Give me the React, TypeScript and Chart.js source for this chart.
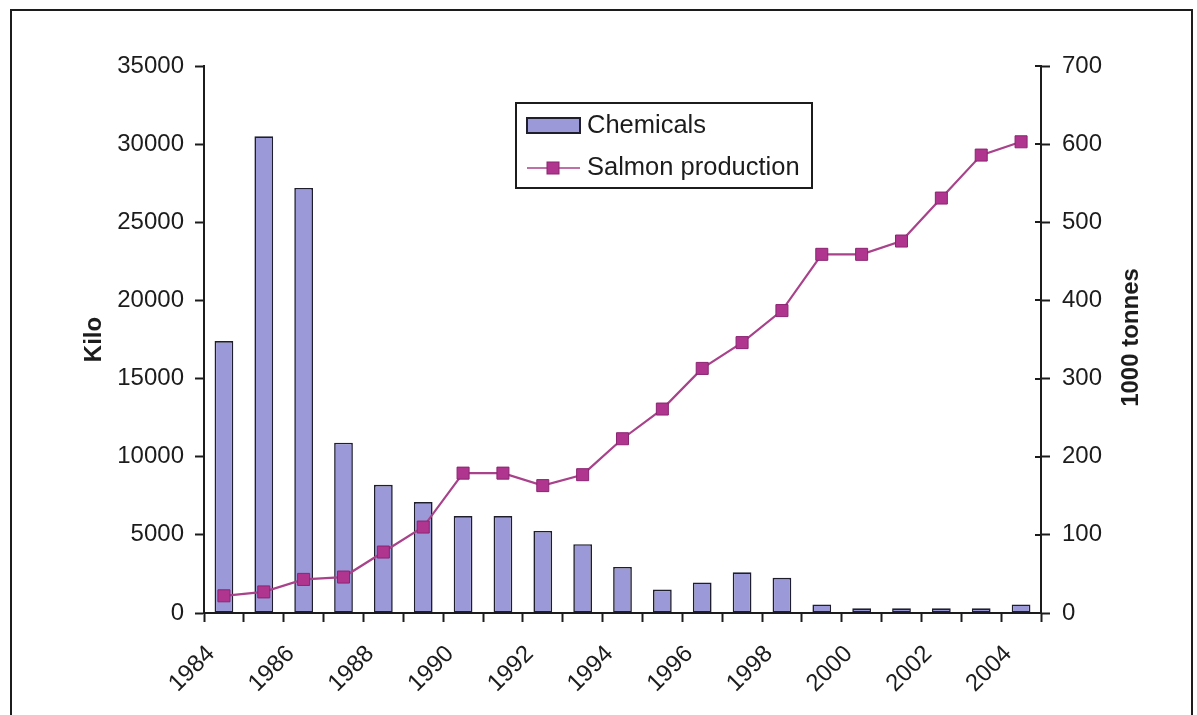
import { useEffect, useRef } from "react";
import { Chart, registerables } from "chart.js";

Chart.register(...registerables);

// Years on the category axis
const years = [
  "1984", "1985", "1986", "1987", "1988", "1989", "1990", "1991", "1992", "1993", "1994",
  "1995", "1996", "1997", "1998", "1999", "2000", "2001", "2002", "2003", "2004",
];

// Chemicals used, kilo (left axis)
const chemicals = [
  17400, 30500, 27200, 10900, 8200, 7100, 6200, 6200, 5250, 4400, 2950,
  1500, 1950, 2600, 2250, 550, 300, 300, 300, 300, 550,
];

// Salmon production, 1000 tonnes (right axis)
const salmon = [
  22, 27, 43, 46, 78, 110, 179, 179, 163, 177, 223,
  261, 313, 346, 387, 459, 459, 476, 531, 586, 603,
];

const kiloMax = 35000;
const kiloStep = 5000;
const tonnesMax = 700;
const tonnesStep = 100;

const FONT = '"Liberation Sans", Arial, Helvetica, sans-serif';
const INK = "#1c1c1c";
const BAR_FILL = "#9b99d8";
const BAR_EDGE = "#1e1e2c";
const LINE_COLOR = "#a8428a";
const POINT_FILL = "#b0358f";
const POINT_EDGE = "#8c2472";

const W = 1197;
const H = 715;

function drawUpright(ctx: CanvasRenderingContext2D, text: string, x: number, y: number) {
  ctx.save();
  ctx.translate(x, y);
  ctx.rotate(-Math.PI / 2);
  ctx.fillText(text, 0, 0);
  ctx.restore();
}

const overlayPlugin = {
  id: "overlay",
  afterDraw(chart: any) {
    const ctx: CanvasRenderingContext2D = chart.ctx;
    const area = chart.chartArea;
    const right = chart.scales.y1;
    ctx.save();

    // right axis tick marks cross the axis line
    ctx.strokeStyle = INK;
    ctx.lineWidth = 2;
    right.ticks.forEach((_t: any, i: number) => {
      const y = Math.round(right.getPixelForTick(i));
      ctx.beginPath();
      ctx.moveTo(area.right - 6, y);
      ctx.lineTo(area.right, y);
      ctx.stroke();
    });

    // axis titles, both reading bottom to top
    ctx.fillStyle = INK;
    ctx.font = `bold 24px ${FONT}`;
    ctx.textAlign = "center";
    ctx.textBaseline = "middle";
    const midY = (area.top + area.bottom) / 2;
    drawUpright(ctx, "Kilo", area.left - 110, midY);
    drawUpright(ctx, "1000 tonnes", area.right + 90, midY - 2);

    // legend
    const bx = 516, by = 103, bw = 296, bh = 85;
    ctx.fillStyle = "#ffffff";
    ctx.fillRect(bx, by, bw, bh);
    ctx.strokeStyle = INK;
    ctx.lineWidth = 2;
    ctx.strokeRect(bx, by, bw, bh);

    const ds = chart.data.datasets;
    ctx.font = `25.5px ${FONT}`;
    ctx.textAlign = "left";
    ctx.textBaseline = "middle";

    // bar entry
    ctx.fillStyle = ds[0].backgroundColor;
    ctx.fillRect(527, 118, 53, 15);
    ctx.strokeStyle = ds[0].borderColor;
    ctx.lineWidth = 2;
    ctx.strokeRect(527, 118, 53, 15);
    ctx.fillStyle = INK;
    ctx.fillText(ds[0].label, 587, 126);

    // line entry
    const ly = 168;
    ctx.strokeStyle = ds[1].borderColor;
    ctx.lineWidth = 1.5;
    ctx.beginPath();
    ctx.moveTo(527, ly);
    ctx.lineTo(580, ly);
    ctx.stroke();
    ctx.fillStyle = ds[1].pointBackgroundColor;
    ctx.fillRect(547, ly - 6, 12, 12);
    ctx.strokeStyle = ds[1].pointBorderColor;
    ctx.lineWidth = 1;
    ctx.strokeRect(547, ly - 6, 12, 12);
    ctx.fillStyle = INK;
    ctx.fillText(ds[1].label, 587, ly);

    ctx.restore();
  },
};

export default function App() {
  const canvasRef = useRef<HTMLCanvasElement | null>(null);

  useEffect(() => {
    const canvas = canvasRef.current;
    if (!canvas) return;

    const tickFont = { family: FONT, size: 24 };

    const chart = new Chart(canvas, {
      type: "bar",
      data: {
        labels: years,
        datasets: [
          {
            type: "bar",
            label: "Chemicals",
            data: chemicals,
            yAxisID: "y",
            backgroundColor: BAR_FILL,
            borderColor: BAR_EDGE,
            borderWidth: 1.6,
            borderSkipped: false,
            barPercentage: 0.47,
            categoryPercentage: 1,
            order: 2,
          },
          {
            type: "line",
            label: "Salmon production",
            data: salmon,
            yAxisID: "y1",
            borderColor: LINE_COLOR,
            borderWidth: 2.2,
            tension: 0,
            pointStyle: "rect",
            pointRadius: 8.5,
            pointBackgroundColor: POINT_FILL,
            pointBorderColor: POINT_EDGE,
            pointBorderWidth: 1,
            order: 1,
          },
        ],
      },
      options: {
        responsive: false,
        animation: false,
        devicePixelRatio: 1,
        layout: { padding: { top: 66, left: 0, right: 0, bottom: 0 } },
        plugins: {
          legend: { display: false },
          tooltip: { enabled: false },
          title: { display: false },
        },
        scales: {
          x: {
            offset: true,
            grid: {
              offset: true,
              drawOnChartArea: false,
              drawTicks: true,
              tickLength: 9,
              tickWidth: 2,
              tickColor: INK,
            },
            border: { display: true, color: INK, width: 2 },
            ticks: {
              autoSkip: false,
              minRotation: 45,
              maxRotation: 45,
              padding: 18,
              labelOffset: -13,
              color: INK,
              font: tickFont,
              callback: (_v: any, i: number) => (i % 2 === 0 ? years[i] : ""),
            },
            afterFit: (s: any) => {
              s.height = 102;
            },
          },
          y: {
            position: "left",
            min: 0,
            max: kiloMax,
            grid: {
              drawOnChartArea: false,
              drawTicks: true,
              tickLength: 9,
              tickWidth: 2,
              tickColor: INK,
            },
            border: { display: true, color: INK, width: 2 },
            ticks: {
              stepSize: kiloStep,
              padding: 11,
              color: INK,
              font: tickFont,
              callback: (v: any) => String(v),
            },
            afterFit: (s: any) => {
              s.width = 204;
            },
          },
          y1: {
            position: "right",
            min: 0,
            max: tonnesMax,
            grid: {
              drawOnChartArea: false,
              drawTicks: true,
              tickLength: 9,
              tickWidth: 2,
              tickColor: INK,
            },
            border: { display: true, color: INK, width: 2 },
            ticks: {
              stepSize: tonnesStep,
              padding: 12,
              color: INK,
              font: tickFont,
              callback: (v: any) => String(v),
            },
            afterFit: (s: any) => {
              s.width = W - 1041;
            },
          },
        },
      },
      plugins: [overlayPlugin],
    });

    return () => chart.destroy();
  }, []);

  return (
    <div
      style={{
        position: "absolute",
        left: 0,
        top: 0,
        width: W,
        height: H,
        overflow: "hidden",
        background: "#ffffff",
      }}
    >
      <div
        style={{
          position: "absolute",
          left: 10,
          top: 9,
          width: 1183,
          height: 800,
          border: `2px solid ${INK}`,
          boxSizing: "border-box",
          pointerEvents: "none",
        }}
      />
      <canvas
        ref={canvasRef}
        width={W}
        height={H}
        style={{ position: "absolute", left: 0, top: 0, width: W, height: H }}
      />
    </div>
  );
}
